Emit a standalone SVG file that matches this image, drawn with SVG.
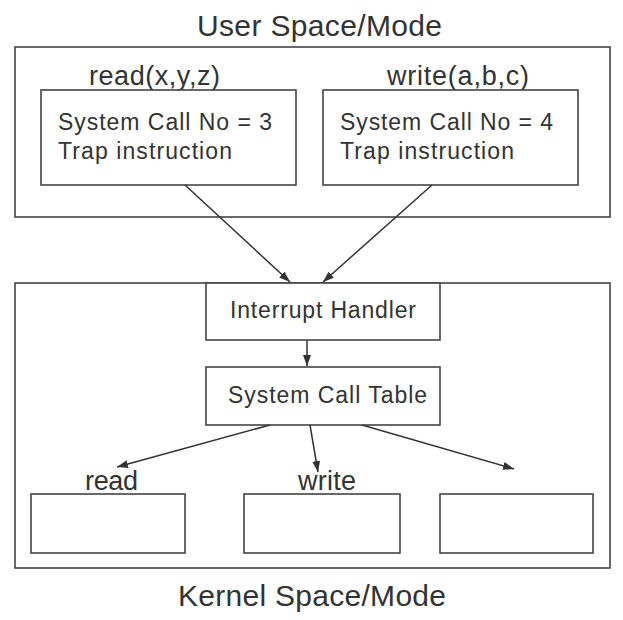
<svg xmlns="http://www.w3.org/2000/svg" width="623" height="620" viewBox="0 0 623 620">
<defs>
<marker id="ah" markerUnits="userSpaceOnUse" markerWidth="11" markerHeight="8" refX="11" refY="4" orient="auto">
<path d="M0,0 L11,4 L0,8 z" fill="#333"/>
</marker>
<style>
.box{fill:#fff;stroke:#444;stroke-width:1.6}
.frame{fill:none;stroke:#444;stroke-width:1.6}
text{font-family:"Liberation Sans",Arial,sans-serif;fill:#333}
.t30{font-size:30px}
.t26{font-size:27px}
.t22{font-size:23px}
.conn{stroke:#333;stroke-width:1.5;fill:none;marker-end:url(#ah)}
</style>
</defs>
<rect width="623" height="620" fill="#fff"/>
<g id="user-space">
<rect class="frame" x="15" y="47" width="595" height="170"/>
<text class="t30" x="197" y="36" textLength="245" lengthAdjust="spacing">User Space/Mode</text>
</g>
<g id="read-call">
<text class="t26" x="89" y="85" textLength="131" lengthAdjust="spacing">read(x,y,z)</text>
<rect class="box" x="41" y="90" width="255" height="95"/>
<text class="t22" x="58" y="130" textLength="214" lengthAdjust="spacing">System Call No = 3</text>
<text class="t22" x="58" y="159" textLength="174" lengthAdjust="spacing">Trap instruction</text>
</g>
<g id="write-call">
<text class="t26" x="387" y="85" textLength="142" lengthAdjust="spacing">write(a,b,c)</text>
<rect class="box" x="323" y="90" width="255" height="95"/>
<text class="t22" x="340" y="130" textLength="213" lengthAdjust="spacing">System Call No = 4</text>
<text class="t22" x="340" y="159" textLength="174" lengthAdjust="spacing">Trap instruction</text>
</g>
<g id="kernel-space">
<rect class="frame" x="15" y="283" width="595" height="285"/>
<text class="t30" x="178" y="606" textLength="268" lengthAdjust="spacing">Kernel Space/Mode</text>
</g>
<g id="interrupt-handler">
<rect class="box" x="206" y="283" width="234" height="57"/>
<text class="t22" x="230" y="318" textLength="186" lengthAdjust="spacing">Interrupt Handler</text>
</g>
<g id="system-call-table">
<rect class="box" x="206" y="367" width="234" height="58"/>
<text class="t22" x="228" y="403" textLength="199" lengthAdjust="spacing">System Call Table</text>
</g>
<g id="read-handler">
<text class="t26" x="85" y="490" textLength="53" lengthAdjust="spacing">read</text>
<rect class="box" x="31" y="494" width="154" height="59"/>
</g>
<g id="write-handler">
<text class="t26" x="298" y="490" textLength="58" lengthAdjust="spacing">write</text>
<rect class="box" x="244" y="494" width="156" height="59"/>
</g>
<g id="other-handler">
<rect class="box" x="440" y="494" width="153" height="59"/>
</g>
<g id="connectors">
<line class="conn" x1="185" y1="185" x2="290" y2="282"/>
<line class="conn" x1="432" y1="185" x2="323" y2="282"/>
<line class="conn" x1="307" y1="340" x2="307" y2="366"/>
<line class="conn" x1="270" y1="425" x2="117" y2="467"/>
<line class="conn" x1="310" y1="425" x2="318" y2="472"/>
<line class="conn" x1="362" y1="425" x2="514" y2="469"/>
</g>
</svg>
